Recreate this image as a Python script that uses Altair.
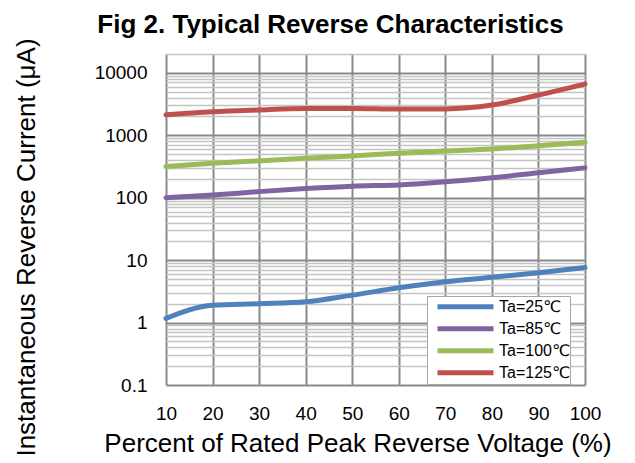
import altair as alt
import pandas as pd

# ---- data ----
x_pct = [10, 20, 30, 40, 50, 60, 70, 80, 90, 100]
ta25 = [1.17, 1.9, 2.0, 2.15, 2.75, 3.6, 4.5, 5.3, 6.3, 7.6]
ta85 = [100, 110, 125, 140, 153, 160, 180, 208, 250, 300]
ta100 = [315, 355, 390, 428, 466, 515, 560, 603, 680, 770]
ta125 = [2120, 2380, 2540, 2670, 2690, 2630, 2640, 3040, 4400, 6600]

series = ["Ta=25℃", "Ta=85℃", "Ta=100℃", "Ta=125℃"]
colors = ["#4F81BD", "#8064A2", "#9BBB59", "#C0504D"]

major_ticks = [0.1, 1, 10, 100, 1000, 10000]
minor_ticks = [m * d for d in [0.1, 1, 10, 100, 1000] for m in range(2, 10)] + [20000]
y_ticks = major_ticks + minor_ticks

rows = []
for name, vals in zip(series, [ta25, ta85, ta100, ta125]):
    for xv, yv in zip(x_pct, vals):
        rows.append({"pct": xv, "current": yv, "series": name})
df = pd.DataFrame(rows)

FONT = "Arial, Liberation Sans, DejaVu Sans"
IS_MAJOR = "indexof([0.1, 1, 10, 100, 1000, 10000], datum.value) >= 0"
MAJOR_COL = "#8a8a8a"
MINOR_COL = "#c4c4c4"

chart = alt.Chart(df).mark_line(
    strokeWidth=5, interpolate="monotone", strokeCap="round"
).encode(
    x=alt.X(
        "pct:Q",
        scale=alt.Scale(domain=[10, 100], nice=False, zero=False),
        axis=alt.Axis(
            values=x_pct,
            title="Percent of Rated Peak Reverse Voltage (%)",
            grid=True, gridColor=MAJOR_COL, gridWidth=2,
            domain=False, ticks=False, tickSize=0,
            labelFlush=False, labelPadding=19, labelFontSize=19,
            labelFont=FONT, labelColor="black",
            titleFont=FONT, titleFontSize=26, titleFontWeight="normal",
            titleColor="black", titleX=191.5, titleY=66,
            titleBaseline="alphabetic", titleAlign="center",
        ),
    ),
    y=alt.Y(
        "current:Q",
        scale=alt.Scale(type="log", domain=[0.1, 20000], nice=False),
        axis=alt.Axis(
            values=y_ticks, format="~g",
            labelExpr=IS_MAJOR + " ? datum.label : ''",
            labelOverlap=False,
            title="Instantaneous Reverse Current (μA)",
            grid=True,
            gridColor={"condition": {"test": IS_MAJOR, "value": MAJOR_COL}, "value": MINOR_COL},
            gridWidth={"condition": {"test": IS_MAJOR, "value": 2}, "value": 1.5},
            domain=False, ticks=False, tickSize=0,
            labelPadding=19, labelFontSize=19, labelFont=FONT, labelColor="black",
            titleFont=FONT, titleFontSize=26, titleFontWeight="normal",
            titleColor="black", titleAngle=270, titleBaseline="middle",
            titleAlign="center", titleX=-140, titleY=193,
        ),
    ),
    color=alt.Color(
        "series:N",
        sort=series,
        scale=alt.Scale(domain=series, range=colors),
        legend=alt.Legend(
            title=None, orient="none", legendX=261, legendY=242,
            symbolType="stroke", symbolSize=3136, symbolStrokeWidth=5,
            symbolOffset=8, labelOffset=3,
            labelFont=FONT, labelFontSize=16, labelColor="black",
            fillColor="white", strokeColor="#a6a6a6",
            padding=0, clipHeight=21.7, rowPadding=0,
        ),
    ),
).properties(
    width=419,
    height=331,
    autosize=alt.AutoSizeParams(type="none"),
    padding={"left": 158, "top": 46, "right": 40, "bottom": 74},
    title=alt.TitleParams(
        text="Fig 2. Typical Reverse Characteristics",
        font=FONT, fontSize=26, fontWeight="bold", color="black",
        anchor="middle", frame="group", dx=-45,
        baseline="alphabetic", offset=-21,
    ),
).configure_view(stroke=None)

chart.save("out.html", embed_options={"renderer": "svg", "actions": False})
